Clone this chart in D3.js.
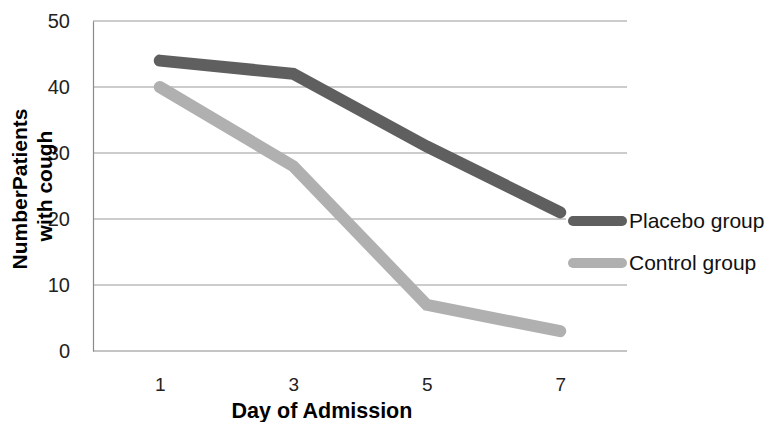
<!DOCTYPE html>
<html><head><meta charset="utf-8">
<script src="https://cdn.jsdelivr.net/npm/d3@7"></script>
<style>body{margin:0;background:#fff}svg{display:block}</style>
</head><body>
<svg id="c" width="769" height="422"></svg>
<script>
const days = ["1", "3", "5", "7"];
const placebo = [44, 42, 31, 21];
const control = [40, 28, 7, 3];
const yTicks = [0, 10, 20, 30, 40, 50];
const seriesNames = ["Placebo group", "Control group"];
const seriesColors = ["#5f5f5f", "#b0b0b0"];

const svg = d3.select("#c");
const m = {l: 93, r: 627, t: 21, b: 351};
const x = d3.scalePoint().domain(days).range([m.l, m.r]).padding(0.5);
const y = d3.scaleLinear().domain([0, 50]).range([m.b, m.t]);
const font = "'Liberation Sans', Arial, sans-serif";

// gridlines
svg.append("g").selectAll("line").data(yTicks.filter(d => d > 0)).join("line")
  .attr("x1", m.l).attr("x2", m.r).attr("y1", d => y(d)).attr("y2", d => y(d))
  .attr("stroke", "#9a9a9a").attr("stroke-width", 1.2);

// y axis
const ya = svg.append("g").attr("transform", `translate(${m.l},0)`)
  .call(d3.axisLeft(y).tickValues(yTicks).tickSize(0).tickPadding(23));
ya.select(".domain").attr("stroke", "#8a8a8a").attr("stroke-width", 1.2);
ya.selectAll("text").attr("font-family", font).attr("font-size", 20).attr("fill", "#222");

// x axis
const xa = svg.append("g").attr("transform", `translate(0,${m.b})`)
  .call(d3.axisBottom(x).tickSize(0));
xa.select(".domain").attr("stroke", "#8a8a8a").attr("stroke-width", 1.2).attr("d", `M${m.l},0H${m.r}`);
xa.selectAll("text").attr("font-family", font).attr("font-size", 19).attr("fill", "#222")
  .attr("dy", null).attr("y", 40);

// legend background
svg.append("rect").attr("x", 566).attr("y", 205).attr("width", 203).attr("height", 72).attr("fill", "#fff");

const line = d3.line().x((d, i) => x(days[i])).y(d => y(d));
[placebo, control].forEach((s, k) => {
  svg.append("path").attr("d", line(s)).attr("fill", "none")
    .attr("stroke", seriesColors[k]).attr("stroke-width", 12)
    .attr("stroke-linecap", "round").attr("stroke-linejoin", "miter");
});

// legend
seriesNames.forEach((n, k) => {
  const ly = 221 + k * 42;
  svg.append("line").attr("x1", 573).attr("x2", 622).attr("y1", ly).attr("y2", ly)
    .attr("stroke", seriesColors[k]).attr("stroke-width", 10).attr("stroke-linecap", "round");
  svg.append("text").attr("x", 629).attr("y", ly + 7).text(n)
    .attr("font-family", font).attr("font-size", 21).attr("fill", "#111");
});

// axis titles
svg.append("text").attr("x", (m.l + m.r) / 2 - 38).attr("y", 418).attr("text-anchor", "middle")
  .attr("font-family", font).attr("font-weight", "bold").attr("font-size", 21.5).text("Day of Admission");
const yt = svg.append("text").attr("transform", "translate(0,189) rotate(-90)")
  .attr("text-anchor", "middle").attr("font-family", font).attr("font-weight", "bold").attr("font-size", 21);
yt.append("tspan").attr("x", 0).attr("y", 27).text("NumberPatients");
yt.append("tspan").attr("x", 3).attr("y", 52).text("with cough");
</script>
</body></html>
